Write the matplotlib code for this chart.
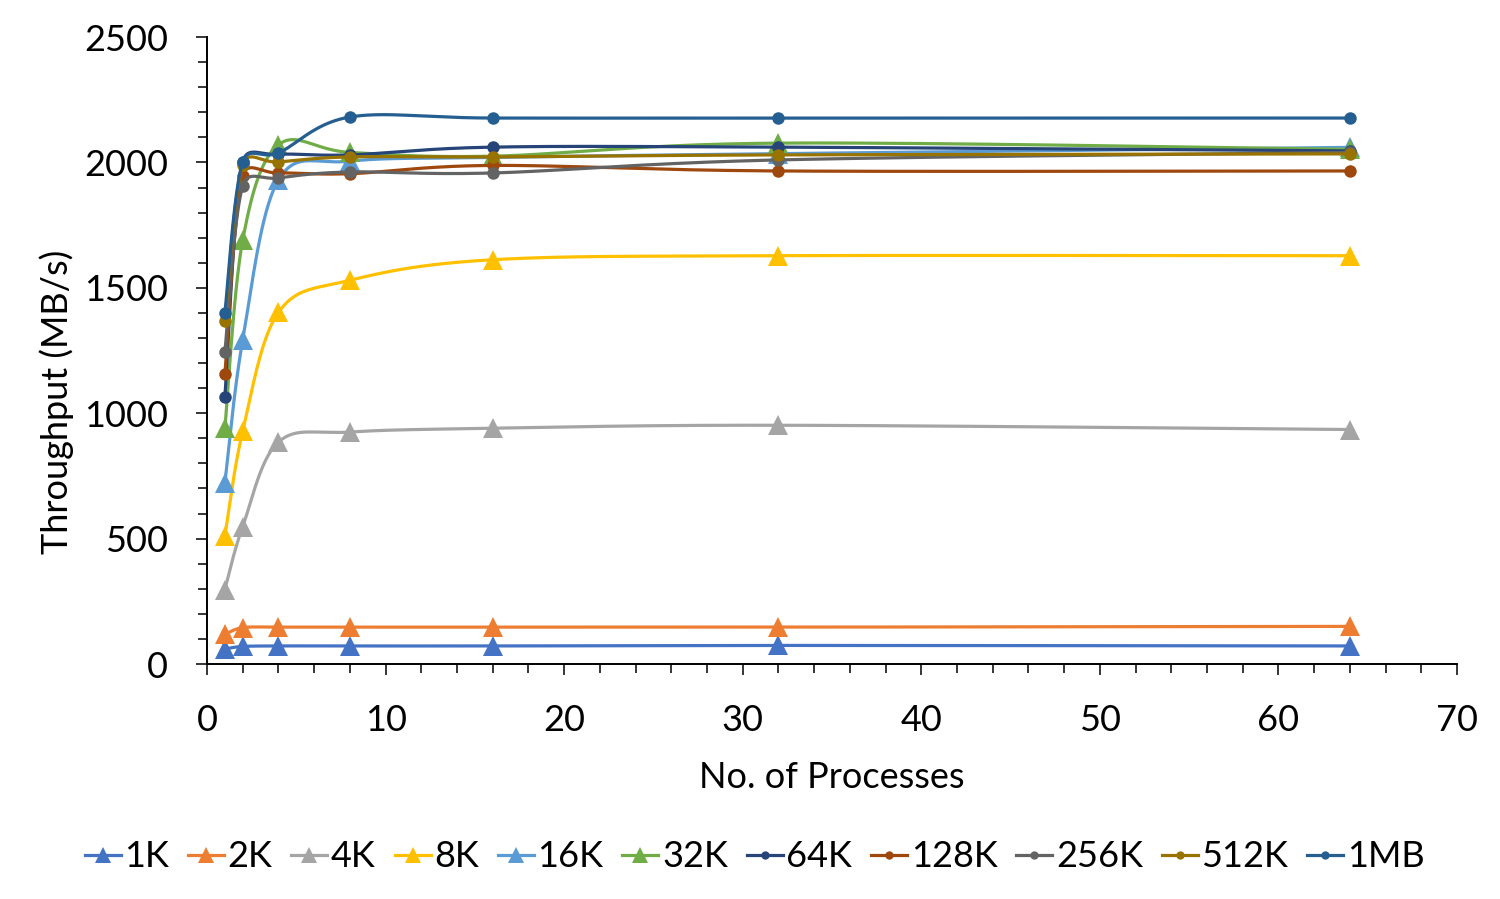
import numpy as np
import matplotlib
matplotlib.use("Agg")
import matplotlib.pyplot as plt
from matplotlib.lines import Line2D
from matplotlib.ticker import MultipleLocator

plt.rcParams['font.family'] = ['Lato', 'DejaVu Sans']

# number of processes
procs = [1, 2, 4, 8, 16, 32, 64]

# throughput (MB/s) per block size
tp_1k = [60, 70, 72, 72, 72, 74, 72]
tp_2k = [118, 145, 147, 147, 147, 147, 150]
tp_4k = [297, 548, 885, 925, 940, 952, 935]
tp_8k = [510, 928, 1402, 1530, 1612, 1628, 1628]
tp_16k = [722, 1292, 1930, 2005, 2020, 2035, 2060]
tp_32k = [940, 1690, 2070, 2040, 2025, 2077, 2052]
tp_64k = [1065, 2000, 2032, 2030, 2061, 2061, 2046]
tp_128k = [1157, 1945, 1958, 1955, 1988, 1966, 1966]
tp_256k = [1244, 1906, 1938, 1962, 1958, 2010, 2040]
tp_512k = [1368, 1990, 2002, 2022, 2022, 2030, 2034]
tp_1mb = [1400, 2002, 2038, 2181, 2177, 2177, 2177]

labels = ['1K', '2K', '4K', '8K', '16K', '32K', '64K', '128K', '256K', '512K', '1MB']
colors = ['#4472C4', '#ED7D31', '#A5A5A5', '#FFC000', '#5B9BD5', '#70AD47',
          '#264478', '#9E480E', '#636363', '#997300', '#255E91']


def smooth(ax, x, y, n=40):
    # excel-style smoothed line, built in screen space so the arms match
    pts = ax.transData.transform(np.column_stack([x, y]))
    p = np.vstack([pts[0], pts, pts[-1]])
    t = np.linspace(0, 1, n)[:, None]
    out = []
    for i in range(1, len(p) - 2):
        a, b = p[i], p[i + 1]
        seg = np.hypot(*(b - a))
        arm1 = (p[i + 1] - p[i - 1]) / 6.0
        arm2 = (p[i + 2] - p[i]) / 6.0
        for arm in (arm1, arm2):
            L = np.hypot(*arm)
            if L > seg / 2 and L > 0:
                arm *= (seg / 2) / L
        c1 = a + arm1
        c2 = b - arm2
        out.append((1 - t) ** 3 * a + 3 * (1 - t) ** 2 * t * c1
                   + 3 * (1 - t) * t ** 2 * c2 + t ** 3 * b)
    curve = ax.transData.inverted().transform(np.vstack(out))
    return curve[:, 0], curve[:, 1]


def plot():
    series = [tp_1k, tp_2k, tp_4k, tp_8k, tp_16k, tp_32k,
              tp_64k, tp_128k, tp_256k, tp_512k, tp_1mb]

    fig = plt.figure(figsize=(15, 8.99), dpi=100)
    ax = fig.add_axes([0.138, 0.2614, 0.8333, 0.6974])
    ax.set_xlim(0, 70)
    ax.set_ylim(0, 2500)

    handles = []
    for i, (vals, lab, c) in enumerate(zip(series, labels, colors)):
        tri = i < 6
        sx, sy = smooth(ax, procs, vals)
        ax.plot(sx, sy, '-', color=c, lw=2.3, zorder=2 + i)
        if tri:
            ax.plot(procs, vals, '^', color=c, ms=15, mew=0, zorder=2 + i)
            handles.append(Line2D([], [], color=c, lw=2.3, marker='^', ms=11, mew=0))
        else:
            ax.plot(procs, vals, 'o', color=c, ms=9, mew=0, zorder=2 + i)
            handles.append(Line2D([], [], color=c, lw=2.3, marker='o', ms=6, mew=0))

    ax.set_xlim(0, 70)
    ax.set_ylim(0, 2500)
    ax.xaxis.set_major_locator(MultipleLocator(10))
    ax.xaxis.set_minor_locator(MultipleLocator(2))
    ax.yaxis.set_major_locator(MultipleLocator(500))
    ax.yaxis.set_minor_locator(MultipleLocator(100))
    for s in ['top', 'right']:
        ax.spines[s].set_visible(False)
    for s in ['left', 'bottom']:
        ax.spines[s].set_linewidth(1.4)
    ax.tick_params(which='major', direction='out', length=8, width=1.1, labelsize=26)
    ax.tick_params(which='minor', direction='out', length=6.5, width=1.1)
    ax.tick_params(axis='x', which='major', pad=21)
    ax.tick_params(axis='y', which='major', pad=20)

    ax.set_xlabel('No. of Processes', fontsize=26, labelpad=17)
    fig.text(57 / 1500, 1 - 402 / 899, 'Throughput (MB/s)', rotation=90,
             ha='center', va='center', fontsize=26)

    fig.legend(handles, labels, loc='center', bbox_to_anchor=(0.503, 0.047),
               ncol=11, frameon=False, fontsize=26, handlelength=1.0,
               handletextpad=0.1, columnspacing=0.52)

    fig.savefig('out.png', dpi=100)


if __name__ == "__main__":
    plot()
